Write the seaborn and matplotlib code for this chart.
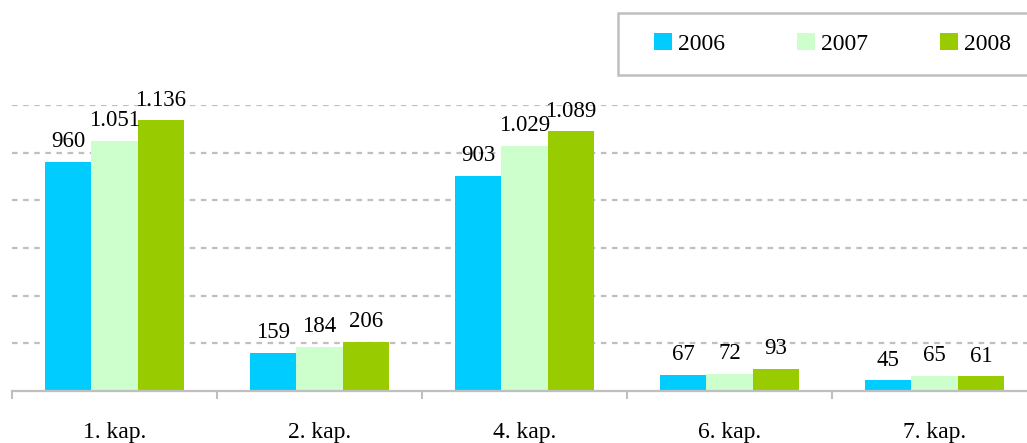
import matplotlib
matplotlib.use("Agg")
import matplotlib.pyplot as plt
import seaborn as sns
import pandas as pd
from matplotlib.patches import Patch, Rectangle
from matplotlib.ticker import FixedLocator

# Chapters and yearly values
categories = ["1. kap.", "2. kap.", "4. kap.", "6. kap.", "7. kap."]
years = ["2006", "2007", "2008"]
values_2006 = [960, 159, 903, 67, 45]
values_2007 = [1051, 184, 1029, 72, 65]
values_2008 = [1136, 206, 1089, 93, 61]

colors = ["#00CCFF", "#CCFFCC", "#99CC00"]
grid_color = "#BFBFBF"
font = "Liberation Serif"

df = pd.DataFrame({
    "kapitel": categories * 3,
    "year": [y for y in years for _ in categories],
    "value": values_2006 + values_2007 + values_2008,
})

sns.set_theme(style="white")
plt.rcParams["font.family"] = [font, "DejaVu Serif"]
plt.rcParams["text.color"] = "black"

W, H = 1027, 443
fig = plt.figure(figsize=(W / 100, H / 100), dpi=100)
ax = fig.add_axes([12 / W, 1 - 391 / H, 1025 / W, 286 / H])

sns.barplot(data=df, x="kapitel", y="value", hue="year", order=categories,
            hue_order=years, palette=colors, width=0.68, linewidth=0,
            saturation=1, legend=False, ax=ax)

ax.set_ylim(0, 1200)
ax.set_xlim(-0.5, len(categories) - 0.5)

# dashed horizontal gridlines
ax.set_yticks(range(200, 1201, 200))
ax.yaxis.grid(True, linestyle=(0, (2.5, 2.5)), color=grid_color, linewidth=1.6)
ax.tick_params(axis="y", left=False, labelleft=False)
ax.set_axisbelow(True)

# category boundary ticks and centered labels
ax.xaxis.set_major_locator(FixedLocator([i - 0.5 for i in range(len(categories) + 1)]))
ax.xaxis.set_minor_locator(FixedLocator(list(range(len(categories)))))
ax.set_xticklabels([], minor=False)
ax.set_xticklabels(categories, minor=True)
ax.tick_params(axis="x", which="major", bottom=True, length=6, width=1.5,
               color=grid_color, direction="out")
ax.tick_params(axis="x", which="minor", bottom=True, length=0, pad=22,
               labelsize=17, labelcolor="black")
ax.set_xlabel("")
ax.set_ylabel("")

for s in ["top", "right", "left"]:
    ax.spines[s].set_visible(False)
ax.spines["bottom"].set_color(grid_color)
ax.spines["bottom"].set_linewidth(1.6)

# value labels with dot as thousands separator
for container in ax.containers:
    labels = [f"{int(b.get_height()):,}".replace(",", ".") for b in container]
    ax.bar_label(container, labels=labels, padding=7, fontsize=16.5,
                 color="black")

# legend frame running off the right edge
fig.add_artist(Rectangle((618 / W, 1 - 75 / H), 430 / W, 62 / H,
                         transform=fig.transFigure, facecolor="white",
                         edgecolor=grid_color, linewidth=1.8, zorder=0))

handles = [Patch(facecolor=c, edgecolor="none") for c in colors]
leg = fig.legend(handles, years, loc="center left", ncol=3,
                 bbox_to_anchor=(654 / W, 1 - 44 / H), borderaxespad=0,
                 borderpad=0, fontsize=17, frameon=False,
                 handlelength=0.76, handleheight=0.76, handletextpad=0.25,
                 columnspacing=3.05)
for t in leg.get_texts():
    t.set_color("black")

fig.savefig("out.png", dpi=100)
